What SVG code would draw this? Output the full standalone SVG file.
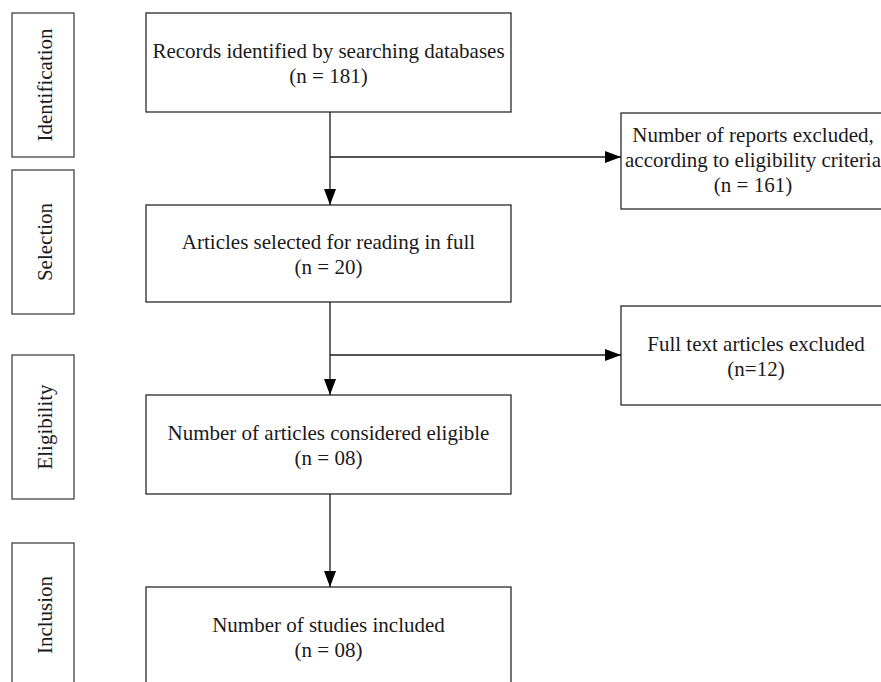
<svg xmlns="http://www.w3.org/2000/svg" width="881" height="682" viewBox="0 0 881 682">
<style>
.box{fill:#fff;stroke:#2a2a2a;stroke-width:1.3}
.ph{fill:#fff;stroke:#444;stroke-width:1.3}
text{font-family:"Liberation Serif","Times New Roman",serif;font-size:21px;fill:#1a1a1a;text-anchor:middle}
.ln{stroke:#1a1a1a;stroke-width:1.3;fill:none}
</style>
<defs>
<marker id="ah" markerWidth="16" markerHeight="12" refX="16" refY="6" orient="auto" markerUnits="userSpaceOnUse">
<path d="M0,0 L16,6 L0,12 Z" fill="#000"/>
</marker>
</defs>
<rect width="881" height="682" fill="#fff"/>
<g id="phase-identification"><rect class="ph" x="12" y="13" width="62" height="144"/><text transform="translate(52,85) rotate(-90)">Identification</text></g>
<g id="phase-selection"><rect class="ph" x="12" y="170" width="62" height="144"/><text transform="translate(52,242) rotate(-90)">Selection</text></g>
<g id="phase-eligibility"><rect class="ph" x="12" y="355" width="62" height="144"/><text transform="translate(52,427) rotate(-90)">Eligibility</text></g>
<g id="phase-inclusion"><rect class="ph" x="12" y="543" width="62" height="144"/><text transform="translate(52,615) rotate(-90)">Inclusion</text></g>
<g id="records"><rect class="box" x="146" y="13" width="365" height="99"/><text x="328.5" y="58">Records identified by searching databases</text><text x="328.5" y="83">(n = 181)</text></g>
<g id="selected"><rect class="box" x="146" y="205" width="365" height="97"/><text x="328.5" y="249">Articles selected for reading in full</text><text x="328.5" y="274">(n = 20)</text></g>
<g id="eligible"><rect class="box" x="146" y="395" width="365" height="99"/><text x="328.5" y="440">Number of articles considered eligible</text><text x="328.5" y="465">(n = 08)</text></g>
<g id="included"><rect class="box" x="146" y="587" width="365" height="100"/><text x="328.5" y="632">Number of studies included</text><text x="328.5" y="657">(n = 08)</text></g>
<g id="excluded-reports"><rect class="box" x="621" y="113" width="270" height="96"/><text x="753" y="142">Number of reports excluded,</text><text x="753" y="167">according to eligibility criteria</text><text x="753" y="192">(n = 161)</text></g>
<g id="excluded-fulltext"><rect class="box" x="621" y="306" width="270" height="99"/><text x="756" y="351">Full text articles excluded</text><text x="756" y="376">(n=12)</text></g>
<g id="connectors">
<line class="ln" x1="330" y1="112" x2="330" y2="205" marker-end="url(#ah)"/>
<line class="ln" x1="330" y1="157" x2="621" y2="157" marker-end="url(#ah)"/>
<line class="ln" x1="330" y1="302" x2="330" y2="395" marker-end="url(#ah)"/>
<line class="ln" x1="330" y1="355" x2="621" y2="355" marker-end="url(#ah)"/>
<line class="ln" x1="330" y1="494" x2="330" y2="587" marker-end="url(#ah)"/>
</g>
</svg>
